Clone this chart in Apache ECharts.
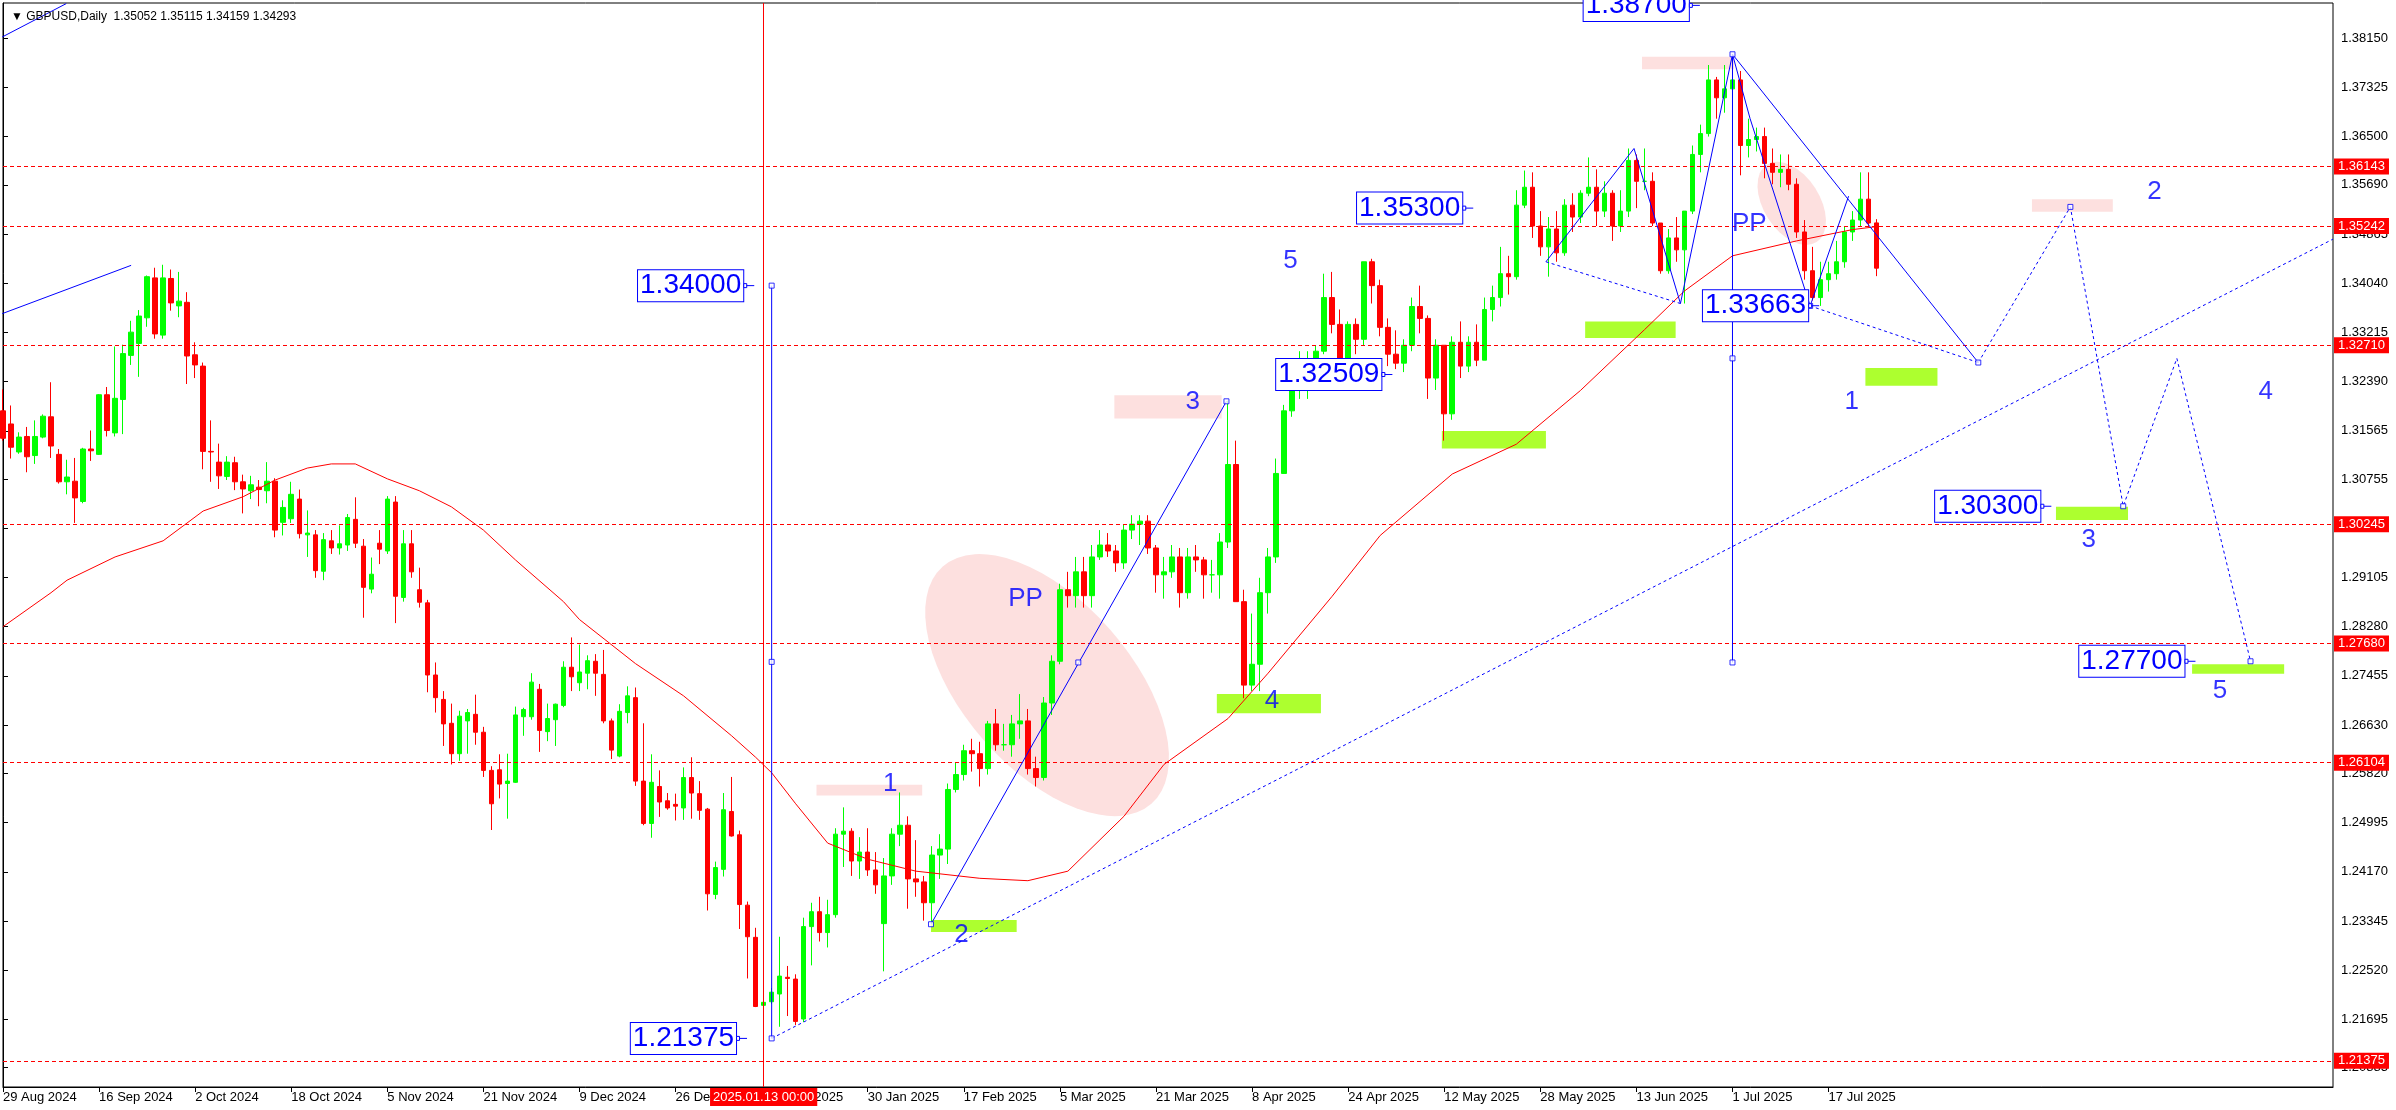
<!DOCTYPE html>
<html><head><meta charset="utf-8">
<script src="https://cdn.jsdelivr.net/npm/echarts@6/dist/echarts.min.js"></script>
<style>html,body{margin:0;padding:0;background:#fff}#c{width:2396px;height:1110px}</style>
</head><body><div id="c"></div>
<script>
// ---------- data ----------
const opens = [1.3190,1.3168,1.3121,1.3147,1.3115,1.3146,1.3180,1.3117,1.3071,1.3072,1.3038,1.3126,1.3117,1.3217,1.3153,1.3209,1.3283,1.3303,1.3346,1.3413,
1.3317,1.3412,1.3366,1.3372,1.3284,1.3265,1.3122,1.3104,1.3080,1.3103,1.3071,1.3056,1.3062,1.3056,1.3072,1.3003,1.3009,1.3042,1.2982,1.2982,
1.2921,1.2972,1.2960,1.2965,1.3008,1.2963,1.2891,1.2968,1.2955,1.3037,1.2877,1.2967,1.2890,1.2868,1.2747,1.2706,1.2666,1.2615,1.2670,1.2681,
1.2651,1.2587,1.2588,1.2565,1.2567,1.2677,1.2677,1.2723,1.2652,1.2672,1.2696,1.2760,1.2734,1.2750,1.2770,1.2748,1.2670,1.2611,1.2684,1.2709,
1.2569,1.2498,1.2560,1.2536,1.2530,1.2524,1.2575,1.2548,1.2522,1.2379,1.2421,1.2518,1.2479,1.2361,1.2307,1.2193,1.2199,1.2212,1.2240,1.2237,
1.2170,1.2325,1.2350,1.2315,1.2345,1.2480,1.2485,1.2435,1.2450,1.2420,1.2330,1.2410,1.2480,1.2495,1.2405,1.2400,1.2365,1.2445,1.2455,1.2555,
1.2580,1.2620,1.2615,1.2590,1.2665,1.2630,1.2630,1.2665,1.2670,1.2590,1.2575,1.2700,1.2770,1.2890,1.2880,1.2920,1.2880,1.2945,1.2965,1.2955,
1.2935,1.2990,1.3000,1.3005,1.2960,1.2915,1.2920,1.2945,1.2885,1.2945,1.2940,1.2915,1.2915,1.2970,1.3100,1.2870,1.2730,1.2765,1.2885,1.2945,
1.3085,1.3190,1.3235,1.3260,1.3265,1.3290,1.3380,1.3335,1.3255,1.3335,1.3310,1.3440,1.3400,1.3330,1.3285,1.3270,1.3300,1.3365,1.3345,1.3245,
1.3300,1.3185,1.3305,1.3265,1.3305,1.3275,1.3360,1.3380,1.3420,1.3415,1.3535,1.3565,1.3500,1.3465,1.3495,1.3455,1.3535,1.3515,1.3555,1.3565,
1.3525,1.3555,1.3500,1.3525,1.3610,1.3575,1.3575,1.3505,1.3425,1.3480,1.3460,1.3525,1.3620,1.3655,1.3745,1.3715,1.3730,1.3745,1.3635,1.3645,
1.3650,1.3605,1.3590,1.3595,1.3570,1.3490,1.3425,1.3380,1.3410,1.3420,1.3440,1.3490,1.3510,1.3545,1.35052];
const highs = [1.3226,1.3199,1.3154,1.3163,1.3174,1.3184,1.3238,1.3126,1.3108,1.3111,1.3128,1.3157,1.3218,1.3230,1.3298,1.3301,1.3341,1.3359,1.3417,1.3430,
1.3435,1.3427,1.3423,1.3389,1.3305,1.3271,1.3174,1.3135,1.3114,1.3113,1.3083,1.3081,1.3074,1.3104,1.3077,1.3040,1.3071,1.3058,1.3023,1.2990,
1.2985,1.2990,1.2998,1.3017,1.3045,1.2975,1.2944,1.2990,1.3047,1.3047,1.2990,1.2990,1.2927,1.2873,1.2768,1.2720,1.2699,1.2687,1.2690,1.2714,
1.2660,1.2594,1.2614,1.2615,1.2694,1.2692,1.2750,1.2732,1.2699,1.2699,1.2770,1.2810,1.2798,1.2780,1.2782,1.2789,1.2674,1.2698,1.2728,1.2726,
1.2666,1.2614,1.2587,1.2549,1.2548,1.2592,1.2609,1.2569,1.2524,1.2434,1.2549,1.2576,1.2486,1.2367,1.2323,1.2210,1.2222,1.2308,1.2259,1.2245,
1.2340,1.2365,1.2375,1.2370,1.2490,1.2525,1.2490,1.2475,1.2490,1.2450,1.2440,1.2490,1.2550,1.2510,1.2470,1.2410,1.2460,1.2480,1.2565,1.2600,
1.2630,1.2640,1.2635,1.2670,1.2690,1.2665,1.2680,1.2715,1.2690,1.2610,1.2710,1.2780,1.2900,1.2920,1.2945,1.2945,1.2965,1.2990,1.2985,1.2965,
1.3000,1.3015,1.3015,1.3015,1.2965,1.2945,1.2965,1.2960,1.2960,1.2965,1.2945,1.2940,1.2985,1.3207,1.3140,1.2890,1.2850,1.2910,1.2960,1.3110,
1.3200,1.3245,1.3290,1.3290,1.3300,1.3420,1.3423,1.3360,1.3340,1.3345,1.3440,1.3445,1.3410,1.3345,1.3325,1.3310,1.3380,1.3400,1.3350,1.3310,
1.3300,1.3315,1.3340,1.3315,1.3335,1.3380,1.3400,1.3465,1.3450,1.3560,1.3593,1.3590,1.3525,1.3515,1.3525,1.3545,1.3555,1.3560,1.3615,1.3595,
1.3575,1.3560,1.3560,1.3630,1.3620,1.3630,1.3590,1.3505,1.3495,1.3515,1.3525,1.3635,1.3670,1.3770,1.3750,1.3770,1.3788,1.3760,1.3680,1.3665,
1.3665,1.3630,1.3620,1.3620,1.3580,1.3510,1.3465,1.3440,1.3440,1.3475,1.3500,1.3525,1.3590,1.3590,1.35115];
const lows = [1.3140,1.3110,1.3118,1.3087,1.3101,1.3144,1.3111,1.3068,1.3050,1.3002,1.3035,1.3106,1.3116,1.3147,1.3147,1.3151,1.3267,1.3247,1.3331,1.3311,
1.3311,1.3358,1.3347,1.3235,1.3245,1.3092,1.3071,1.3059,1.3074,1.3057,1.3018,1.3042,1.3030,1.3035,1.2978,1.2981,1.3002,1.2976,1.2945,1.2910,
1.2906,1.2950,1.2949,1.2955,1.2960,1.2843,1.2884,1.2933,1.2950,1.2834,1.2870,1.2910,1.2860,1.2718,1.2684,1.2628,1.2597,1.2603,1.2615,1.2630,
1.2576,1.2487,1.2540,1.2506,1.2566,1.2645,1.2672,1.2618,1.2636,1.2628,1.2693,1.2720,1.2720,1.2723,1.2712,1.2666,1.2606,1.2609,1.2666,1.2561,
1.2495,1.2474,1.2509,1.2521,1.2503,1.2504,1.2506,1.2504,1.2352,1.2371,1.2409,1.2476,1.2321,1.2238,1.2190,1.2138,1.2195,1.2157,1.2175,1.2160,
1.2165,1.2260,1.2300,1.2290,1.2340,1.2425,1.2410,1.2405,1.2410,1.2380,1.2250,1.2395,1.2460,1.2355,1.2375,1.2335,1.2333,1.2405,1.2430,1.2550,
1.2570,1.2585,1.2560,1.2580,1.2620,1.2620,1.2610,1.2640,1.2580,1.2560,1.2570,1.2680,1.2765,1.2860,1.2860,1.2860,1.2860,1.2940,1.2945,1.2920,
1.2925,1.2975,1.2965,1.2950,1.2885,1.2875,1.2910,1.2860,1.2875,1.2920,1.2875,1.2885,1.2875,1.2960,1.2870,1.2708,1.2720,1.2720,1.2850,1.2935,
1.3085,1.3180,1.3210,1.3210,1.3265,1.3285,1.3320,1.3230,1.3245,1.3285,1.3300,1.3370,1.3315,1.3265,1.3260,1.3255,1.3290,1.3320,1.3210,1.3225,
1.3140,1.3175,1.3245,1.3255,1.3265,1.3275,1.3340,1.3365,1.3385,1.3410,1.3530,1.3480,1.3450,1.3415,1.3440,1.3450,1.3490,1.3505,1.3550,1.3500,
1.3515,1.3475,1.3490,1.3515,1.3530,1.3560,1.3500,1.3420,1.3420,1.3440,1.3370,1.3520,1.3590,1.3650,1.3680,1.3690,1.3715,1.3585,1.3615,1.3625,
1.3580,1.3570,1.3565,1.3560,1.3480,1.3410,1.3375,1.3366,1.3390,1.3410,1.3430,1.3475,1.3500,1.3500,1.34159];
const closes = [1.3144,1.3129,1.3146,1.3113,1.3147,1.3181,1.3131,1.3071,1.3079,1.3044,1.3126,1.3123,1.3217,1.3157,1.3211,1.3286,1.3322,1.3349,1.3415,1.3319,
1.3413,1.3371,1.3374,1.3282,1.3267,1.3122,1.3121,1.3081,1.3104,1.3071,1.3059,1.3066,1.3058,1.3072,1.2990,1.3028,1.3050,1.2984,1.2985,1.2922,
1.2974,1.2960,1.2967,1.3011,1.2968,1.2894,1.2916,1.2958,1.3042,1.2879,1.2967,1.2920,1.2869,1.2747,1.2709,1.2665,1.2615,1.2678,1.2684,1.2651,
1.2587,1.2531,1.2564,1.2569,1.2680,1.2689,1.2735,1.2654,1.2674,1.2698,1.2760,1.2744,1.2752,1.2771,1.2750,1.2670,1.2621,1.2686,1.2712,1.2569,
1.2498,1.2567,1.2534,1.2524,1.2527,1.2575,1.2549,1.2520,1.2380,1.2424,1.2521,1.2477,1.2362,1.2308,1.2191,1.2198,1.2215,1.2242,1.2238,1.2166,
1.2325,1.2350,1.2315,1.2345,1.2480,1.2485,1.2435,1.2450,1.2420,1.2395,1.2410,1.2480,1.2495,1.2405,1.2400,1.2365,1.2445,1.2455,1.2555,1.2580,
1.2620,1.2615,1.2590,1.2665,1.2630,1.2630,1.2665,1.2670,1.2590,1.2575,1.2700,1.2770,1.2890,1.2880,1.2920,1.2880,1.2945,1.2965,1.2955,1.2935,
1.2990,1.3000,1.3005,1.2960,1.2915,1.2920,1.2945,1.2885,1.2945,1.2940,1.2915,1.2915,1.2970,1.3100,1.2870,1.2730,1.2765,1.2885,1.2945,1.3085,
1.3190,1.3235,1.3260,1.3265,1.3290,1.3380,1.3335,1.3255,1.3335,1.3310,1.3440,1.3400,1.3330,1.3285,1.3270,1.3300,1.3365,1.3345,1.3245,1.3300,
1.3185,1.3305,1.3265,1.3305,1.3275,1.3360,1.3380,1.3420,1.3415,1.3535,1.3565,1.3500,1.3465,1.3495,1.3455,1.3535,1.3515,1.3555,1.3565,1.3525,
1.3555,1.3500,1.3525,1.3610,1.3575,1.3575,1.3505,1.3425,1.3480,1.3460,1.3525,1.3620,1.3655,1.3745,1.3715,1.3730,1.3745,1.3635,1.3645,1.3650,
1.3605,1.3590,1.3595,1.3570,1.3490,1.3425,1.3380,1.3410,1.3420,1.3440,1.3490,1.3510,1.3545,1.3505,1.34293];
// moving average: [bar index, value]
const maPoints = [[0,1.2828],[6,1.2885],[8,1.2906],[14,1.2945],[20,1.2972],[25,1.3022],[30,1.3046],[34,1.3074],[38,1.3094],[41,1.3101],[44,1.3101],
[48,1.3076],[52,1.3056],[56,1.3029],[60,1.2990],[64,1.2940],[70,1.2870],[72,1.2840],[79,1.2766],[85,1.2712],[91,1.2645],[94,1.2609],[96,1.2583],
[99,1.2531],[103,1.2465],[108,1.2438],[114,1.2418],[122,1.2406],[128,1.2402],[133,1.2418],[140,1.2510],[145,1.2597],[153,1.2674],[158,1.2750],
[166,1.2879],[172,1.2981],[181,1.3084],[189,1.3134],[197,1.3224],[205,1.3326],[210,1.3391],[216,1.3450],[224,1.3475],[231,1.3494],[234,1.3499]];
const xTickLabels = ['29 Aug 2024','16 Sep 2024','2 Oct 2024','18 Oct 2024','5 Nov 2024','21 Nov 2024','9 Dec 2024','26 Dec 2024','14 Jan 2025',
'30 Jan 2025','17 Feb 2025','5 Mar 2025','21 Mar 2025','8 Apr 2025','24 Apr 2025','12 May 2025','28 May 2025','13 Jun 2025','1 Jul 2025','17 Jul 2025'];
const yTickValues = [1.20885,1.21695,1.22520,1.23345,1.24170,1.24995,1.25820,1.26630,1.27455,1.28280,1.29105,1.29930,1.30755,1.31565,1.32390,
1.33215,1.34040,1.34865,1.35690,1.36500,1.37325,1.38150];
const levelLines = [1.36143,1.35242,1.32710,1.30245,1.27680,1.26104,1.21375];
const lastPrice = 1.34293;
const headerText = 'GBPUSD,Daily  1.35052 1.35115 1.34159 1.34293';
const markedBar = 95, markedLabel = '2025.01.13 00:00';
// annotations (bar index, price)
const solidLines = [
  [[-0.1,1.3817],[7.9,1.3873]],
  [[-0.1,1.3353],[16.0,1.3434]],
  [[96,1.3400],[96,1.21375]],
  [[115.9,1.2329],[152.8,1.3206]],
  [[192.7,1.3440],[203.7,1.3630],[209.5,1.3370],[216,1.3788]],
  [[216,1.3788],[216,1.2768]],
  [[216,1.3788],[218.2,1.3680],[225.7,1.3366],[230.5,1.3550]],
  [[216,1.3788],[246.7,1.3271]]
];
const dottedLines = [
  [[96,1.21375],[291,1.3478]],
  [[192.7,1.3440],[209.5,1.3370]],
  [[225.7,1.3366],[246.7,1.3271]],
  [[246.7,1.3271],[258.2,1.3532],[264.8,1.3030],[271.5,1.3278],[280.7,1.2770]]
];
const handles = [[96,1.3400],[96,1.2769],[96,1.21375],[115.9,1.2329],[134.3,1.2768],[152.8,1.3206],[216,1.3788],[216,1.3278],[216,1.2768],
  [225.7,1.3366],[246.7,1.3271],[258.2,1.3532],[264.8,1.3030],[280.7,1.2770]];
const waveLabels = [['1',110.8,1.2565],['2',119.7,1.2311],['3',148.6,1.3205],['4',158.5,1.2704],['5',160.8,1.3442],['PP',127.7,1.2874],
  ['PP',218.1,1.3504],['1',230.9,1.3205],['2',268.7,1.3558],['3',260.5,1.2974],['4',282.6,1.3222],['5',276.9,1.2720]];
// price boxes: [text, right-edge bar index, price]
const priceBoxes = [['1.34000',92.7,1.3400],['1.21375',91.8,1.21375],['1.35300',182.5,1.3530],['1.32509',172.4,1.32509],
  ['1.33663',225.7,1.33663],['1.38700',210.8,1.3870],['1.30300',254.7,1.3030],['1.27700',272.7,1.2770]];
const pinkRects = [[101.6,114.8,1.2563,1.2545],[138.8,152.2,1.3216,1.3177],[204.7,216.2,1.3784,1.3763],[253.4,263.5,1.3545,1.3524]];
const greenRects = [[115.9,126.6,1.2336,1.2316],[151.6,164.6,1.2715,1.2683],[179.7,192.7,1.3156,1.3127],[197.6,208.9,1.3340,1.3312],
  [232.6,241.6,1.3262,1.3232],[256.4,265.4,1.3029,1.3007],[273.4,284.9,1.2765,1.2749]];
const ellipses = [[130.4,1.2730],[223.4,1.3538]];

// ---------- chart ----------
const N = 292;
const cats = Array.from({length:N},(_,i)=>String(i));
const candles = opens.map((o,i)=>[o,closes[i],lows[i],highs[i]]);
const showTick = (i)=> i%12===0 && i<=228;
const BLUE = '#0000ff';
const ellipseSize = [[84,158,-0.85],[28,46,-1.0]];
const BOXFONT = "28px 'Liberation Sans Narrow','Liberation Sans',sans-serif";

const series = [];
series.push({type:'custom',xAxisIndex:1,yAxisIndex:0,z:1,silent:true,clip:false,
  data: ellipses.map((e,k)=>[e[0],e[1],k]),
  renderItem:(params,api)=>{const pt=api.coord([api.value(0),api.value(1)]);const s=ellipseSize[api.value(2)];
    return {type:'circle',x:pt[0],y:pt[1],rotation:s[2],scaleX:s[1]/s[0],scaleY:1,shape:{cx:0,cy:0,r:s[0]},style:{fill:'#fde0df'}};}});
function rectSeries(rects,color){
  return {type:'custom',xAxisIndex:1,yAxisIndex:0,z:1,silent:true,encode:{x:[0,1],y:[2,3]},data:rects,
   renderItem:(params,api)=>{const a=api.coord([api.value(0),api.value(2)]);const b=api.coord([api.value(1),api.value(3)]);
     return {type:'rect',shape:{x:Math.min(a[0],b[0]),y:Math.min(a[1],b[1]),width:Math.abs(b[0]-a[0]),height:Math.abs(b[1]-a[1])},style:{fill:color}};}};
}
series.push(rectSeries(pinkRects,'#fde0df'));
series.push(rectSeries(greenRects,'#adff2f'));
series.push({type:'candlestick',xAxisIndex:0,yAxisIndex:0,z:3,barWidth:5,data:candles,
  itemStyle:{color:'#00ff00',color0:'#ff0000',borderColor:'#00ff00',borderColor0:'#ff0000',borderWidth:1},
  markLine:{silent:true,symbol:['none','none'],animation:false,
    data:[
      ...levelLines.map(v=>({yAxis:v,lineStyle:{color:'#ff0000',type:[4,3],width:1},
        label:{show:true,position:'end',distance:1,formatter:v.toFixed(5),color:'#fff',backgroundColor:'#ff0000',padding:[2,4,1,4],fontSize:13,fontFamily:'Liberation Sans'}})),
      {yAxis:lastPrice,lineStyle:{opacity:0},label:{show:true,position:'end',distance:1,formatter:lastPrice.toFixed(5),color:'#fff',backgroundColor:'#000',padding:[2,4,1,4],fontSize:13,fontFamily:'Liberation Sans'}},
      {xAxis:cats[markedBar],lineStyle:{color:'#ff0000',type:'solid',width:1},
        label:{show:true,position:'start',distance:1,formatter:markedLabel,color:'#fff',backgroundColor:'#ff0000',padding:[3,3,2,3],fontSize:13,fontFamily:'Liberation Sans'}}
    ]}});
series.push({type:'line',xAxisIndex:1,yAxisIndex:0,z:4,data:maPoints,symbol:'none',lineStyle:{color:'#ff0000',width:1},silent:true});
solidLines.forEach(l=>series.push({type:'line',xAxisIndex:1,yAxisIndex:0,z:5,data:l,symbol:'none',lineStyle:{color:BLUE,width:1},silent:true}));
dottedLines.forEach(l=>series.push({type:'line',xAxisIndex:1,yAxisIndex:0,z:5,data:l,symbol:'none',lineStyle:{color:BLUE,width:1,type:[3,3]},silent:true}));
series.push({type:'scatter',xAxisIndex:1,yAxisIndex:0,z:6,data:handles,symbol:'rect',symbolSize:5,itemStyle:{color:'#fff',borderColor:BLUE,borderWidth:1},silent:true});
series.push({type:'scatter',xAxisIndex:1,yAxisIndex:0,z:7,silent:true,symbolSize:1,itemStyle:{color:'rgba(0,0,0,0)'},
  data:waveLabels.map(w=>({name:w[0],value:[w[1],w[2]]})),
  label:{show:true,position:'inside',formatter:'{b}',color:BLUE,fontSize:26,fontFamily:'Liberation Sans'}});
// price boxes with the small connector on their right edge
series.push({type:'custom',xAxisIndex:1,yAxisIndex:0,z:8,silent:true,clip:false,
  data:priceBoxes.map((b,k)=>[b[1],b[2],k]),
  renderItem:(params,api)=>{const pt=api.coord([api.value(0),api.value(1)]);const b=priceBoxes[api.value(2)];
    return {type:'group',children:[
      {type:'text',x:pt[0]-2,y:pt[1],style:{text:b[0],font:BOXFONT,fill:BLUE,align:'right',verticalAlign:'middle',
        backgroundColor:'#fff',borderColor:BLUE,borderWidth:1,padding:[3,2,0,2]}},
      {type:'line',shape:{x1:pt[0],y1:pt[1],x2:pt[0]+9,y2:pt[1]},style:{stroke:BLUE,lineWidth:1}},
      {type:'rect',shape:{x:pt[0]-1.5,y:pt[1]-2,width:3,height:4},style:{fill:'#fff',stroke:BLUE,lineWidth:1}}
    ]};}});

const option = {
  animation:false,
  backgroundColor:'#fff',
  title:{text:'\u25BC '+headerText,left:6,top:6,textStyle:{fontSize:12,fontWeight:'normal',color:'#000',fontFamily:'Liberation Sans'}},
  grid:{left:3,top:3,right:63,bottom:23,show:true,borderColor:'#000',borderWidth:1,backgroundColor:'#fff'},
  xAxis:[
    {type:'category',data:cats,boundaryGap:false,axisLine:{lineStyle:{color:'#000'}},
     axisTick:{interval:(i)=>showTick(i),length:5,lineStyle:{color:'#000'}},
     axisLabel:{interval:(i)=>showTick(i),formatter:(v)=>xTickLabels[Number(v)/12]||'',align:'left',margin:4,color:'#000',fontSize:13,fontFamily:'Liberation Sans'},
     splitLine:{show:false}},
    {type:'value',min:0,max:N-1,show:false}
  ],
  yAxis:{type:'value',position:'right',min:1.2056,max:1.3874,scale:true,splitLine:{show:false},
    axisLine:{show:true,lineStyle:{color:'#000'}},
    axisTick:{show:true,length:5,customValues:yTickValues,lineStyle:{color:'#000'}},
    axisLabel:{customValues:yTickValues,formatter:(v)=>v.toFixed(5),color:'#000',fontSize:13,margin:8,fontFamily:'Liberation Sans'}},
  series
};
const chart = echarts.init(document.getElementById('c'));
chart.setOption(option);
</script></body></html>
